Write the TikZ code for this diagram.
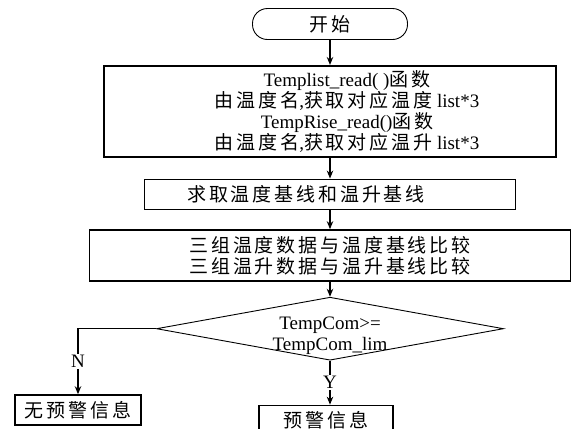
\documentclass[tikz,border=0pt]{standalone}
\usepackage{fontspec}
\setmainfont{Liberation Serif}
\newfontfamily\zhfont[LetterSpace=15]{Noto Sans CJK SC}
\newcommand{\zh}[1]{{\zhfont #1}}
\usepackage{tikz}
\usetikzlibrary{
    shapes.geometric,
    arrows.meta,
    positioning
}

\begin{document}
\begin{tikzpicture}[
  x=1pt, y=1pt,
  every node/.style={font=\fontsize{19}{21}\selectfont, align=center, inner sep=2pt},
  box/.style={draw, line width=1.6pt, minimum height=30pt},
  terminal/.style={draw, line width=0.9pt, rounded corners=15pt, minimum width=155pt, minimum height=31pt},
  decision/.style={draw, diamond, line width=0.9pt, minimum width=347pt, minimum height=63pt, inner sep=0pt},
  arrow/.style={->, line width=1.2pt, >={Stealth[length=8pt, width=6.5pt]}},
  tag/.style={fill=white, inner sep=1pt}
]
\useasboundingbox (0,0) rectangle (574,-429);

\node[terminal] (start) at (330,-24) {\zh{开始}};
\node[box, minimum width=452pt, minimum height=91pt] (read) [below=25pt of start] {};
\node (readtxt) at ([xshift=17pt]read.center)
  {Templist\_read( )\zh{函数}\\
   \zh{由温度名},\zh{获取对应温度} list*3\\
   TempRise\_read()\zh{函数}\\
   \zh{由温度名},\zh{获取对应温升} list*3};
\node[box, minimum width=371pt] (base) [below=21pt of read] {};
\node (basetxt) at ([xshift=-24pt]base.center) {\zh{求取温度基线和温升基线}};
\node[box, minimum width=481pt, minimum height=51pt] (cmp) [below=19pt of base]
  {\zh{三组温度数据与温度基线比较}\\ \zh{三组温升数据与温升基线比较}};
\node[decision] (dec) [below=15pt of cmp] {};
\node (cond) at ([yshift=-7pt]dec.center) {TempCom>=\\ TempCom\_lim};
\node[box, minimum width=134pt] (warn) [below=44pt of dec, xshift=-4pt] {\zh{预警信息}};
\node[box, minimum width=126pt] (nowarn) at (78,-410) {\zh{无预警信息}};

\draw[arrow] (start) -- (read);
\draw[arrow] (read) -- (base);
\draw[arrow] (base) -- (cmp);
\draw[arrow] (cmp) -- (dec);
\draw[arrow] (dec.west) -| (nowarn.north) node[pos=0.75, tag] {N};
\draw[arrow] (dec.south) -- (dec.south |- warn.north) node[midway, tag] {Y};

\end{tikzpicture}
\end{document}
